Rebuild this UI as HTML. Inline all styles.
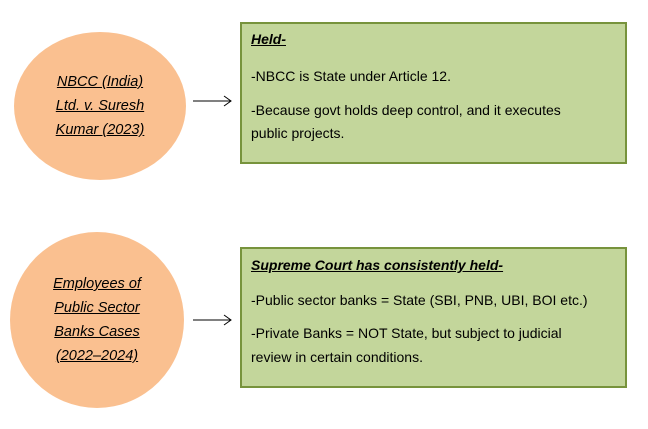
<!DOCTYPE html>
<html><head><meta charset="utf-8"><style>
body{margin:0;width:648px;height:429px;background:#fff;position:relative;overflow:hidden;font-family:"Liberation Sans",sans-serif;color:#000}
.c{position:absolute;background:#fac090;border-radius:50%;display:flex;align-items:center;justify-content:center;text-align:center;font-style:italic;text-decoration:underline;font-size:14.5px;line-height:24px}
.b{position:absolute;left:240px;width:387px;background:#c3d69b;border:2px solid #77933c;box-sizing:border-box;font-size:14px}
.b div{position:absolute;left:9px;white-space:nowrap}
.h{font-weight:bold;font-style:italic;text-decoration:underline}
</style></head><body>
<div class="c" style="left:14px;top:32px;width:172px;height:148px">NBCC (India)<br>Ltd. v. Suresh<br>Kumar (2023)</div>
<div class="c" style="left:10px;top:232px;width:174px;height:176px">Employees of<br>Public Sector<br>Banks Cases<br>(2022–2024)</div>
<svg width="648" height="429" style="position:absolute;left:0;top:0">
<g stroke="#000" stroke-width="1" fill="none">
<line x1="193" y1="101" x2="231" y2="101"/><polyline points="224,96 231,101 224,106"/>
<line x1="193" y1="320" x2="231" y2="320"/><polyline points="224,315 231,320 224,325"/>
</g></svg>
<div class="b" style="top:22px;height:142px">
<div class="h" style="top:7px">Held-</div>
<div style="top:44px">-NBCC is State under Article 12.</div>
<div style="top:78px">-Because govt holds deep control, and it executes</div>
<div style="top:101px">public projects.</div>
</div>
<div class="b" style="top:247px;height:141px">
<div class="h" style="top:8px">Supreme Court has consistently held-</div>
<div style="top:43px">-Public sector banks = State (SBI, PNB, UBI, BOI etc.)</div>
<div style="top:76px">-Private Banks = NOT State, but subject to judicial</div>
<div style="top:100px">review in certain conditions.</div>
</div>
</body></html>
